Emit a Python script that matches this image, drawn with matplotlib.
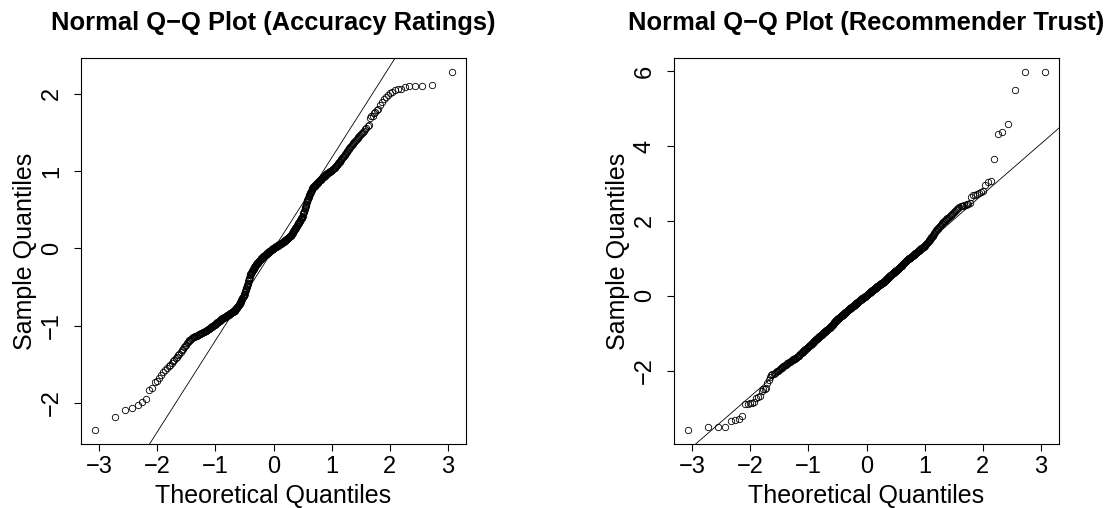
import matplotlib
matplotlib.use("Agg")
import matplotlib.pyplot as plt
import numpy as np
from statistics import NormalDist

# Sorted sample scores for each variable (n = 467)
accuracy_ratings = [
    -2.345, -2.18, -2.09, -2.06, -2.03, -1.99, -1.945, -1.825, -1.805, -1.73, -1.71,
    -1.67, -1.635,
    -1.598, -1.573, -1.549, -1.527,
    -1.503, -1.48, -1.458, -1.437,
    -1.417, -1.398, -1.379, -1.359, -1.342,
    -1.32, -1.30, -1.28, -1.263, -1.243,
    -1.226, -1.214, -1.202, -1.19, -1.178, -1.166, -1.153,
    -1.147, -1.143, -1.139, -1.134, -1.130, -1.126, -1.122,
    -1.118, -1.113, -1.108, -1.104, -1.099, -1.095, -1.090, -1.086, -1.082,
    -1.078, -1.073, -1.068, -1.063, -1.058, -1.053, -1.048, -1.043, -1.038,
    -1.033, -1.027, -1.022, -1.016, -1.011, -1.005, -1.000, -0.994, -0.989, -0.984, -0.978,
    -0.972, -0.967, -0.962, -0.957, -0.952, -0.947, -0.942, -0.937, -0.932, -0.927, -0.922, -0.917,
    -0.912, -0.909, -0.905, -0.902, -0.898, -0.895, -0.891, -0.888, -0.884, -0.881, -0.877, -0.874, -0.870,
    -0.866, -0.862, -0.858, -0.855, -0.851, -0.847, -0.844, -0.840, -0.836, -0.833, -0.829, -0.826, -0.823, -0.820,
    -0.818, -0.815, -0.812, -0.809, -0.803, -0.795, -0.788, -0.781, -0.774, -0.767, -0.761, -0.755, -0.750, -0.745, -0.740,
    -0.733, -0.724, -0.715, -0.705, -0.696, -0.687, -0.678, -0.669, -0.660, -0.650, -0.641, -0.632, -0.623, -0.614, -0.604, -0.595,
    -0.583, -0.569, -0.556, -0.542, -0.528, -0.514, -0.500, -0.487,
    -0.472, -0.456, -0.441, -0.425, -0.410, -0.394, -0.379, -0.363, -0.348,
    -0.336, -0.328, -0.320, -0.313, -0.305, -0.297, -0.290, -0.282, -0.274, -0.267, -0.259, -0.251, -0.244, -0.236, -0.228, -0.221, -0.213,
    -0.208, -0.203, -0.198, -0.193, -0.188, -0.183, -0.178, -0.173, -0.168, -0.164, -0.159, -0.154, -0.149, -0.144, -0.139, -0.134, -0.129, -0.124,
    -0.120, -0.117, -0.113, -0.110, -0.106, -0.103, -0.099, -0.096, -0.092, -0.089, -0.085, -0.082, -0.078, -0.075, -0.071, -0.068, -0.064, -0.061, -0.057,
    -0.053, -0.050, -0.047, -0.043, -0.040, -0.037, -0.034, -0.031, -0.027, -0.024, -0.021, -0.018, -0.015, -0.011, -0.008, -0.005, -0.002, 0.001, 0.004,
    0.007, 0.009, 0.012, 0.015, 0.017, 0.020, 0.022, 0.025, 0.028, 0.030, 0.033, 0.035, 0.038, 0.041, 0.043, 0.046, 0.048, 0.051,
    0.053, 0.056, 0.059, 0.061, 0.064, 0.067, 0.069, 0.072, 0.075, 0.077, 0.080, 0.083, 0.085, 0.088, 0.091, 0.093, 0.096, 0.099, 0.101,
    0.105, 0.109, 0.113, 0.117, 0.121, 0.125, 0.129, 0.133, 0.137, 0.140, 0.144, 0.148, 0.152, 0.156, 0.160, 0.164, 0.168, 0.172,
    0.178, 0.185, 0.192, 0.199, 0.206, 0.213, 0.220, 0.227, 0.234, 0.241, 0.248, 0.255, 0.262, 0.269, 0.276, 0.283, 0.290,
    0.297, 0.304, 0.311, 0.319, 0.326, 0.333, 0.341, 0.348, 0.355, 0.362, 0.370, 0.377, 0.384, 0.392, 0.399, 0.406, 0.413,
    0.425, 0.441, 0.457, 0.473, 0.489, 0.505, 0.521, 0.537,
    0.552, 0.567, 0.582, 0.597, 0.611, 0.626, 0.641, 0.656,
    0.668, 0.678, 0.689, 0.700, 0.712, 0.724, 0.737, 0.750, 0.762, 0.774, 0.784, 0.790, 0.795, 0.799, 0.804,
    0.810, 0.815, 0.820, 0.826, 0.831, 0.837, 0.842, 0.848, 0.853, 0.858, 0.864, 0.869, 0.875, 0.880,
    0.886, 0.891, 0.897, 0.902, 0.908, 0.913, 0.919, 0.924, 0.930, 0.935, 0.941, 0.946, 0.952,
    0.958, 0.962, 0.967, 0.971, 0.976, 0.980, 0.985, 0.989, 0.994, 0.998, 1.003, 1.007,
    1.013, 1.020, 1.027, 1.034, 1.040, 1.047, 1.054, 1.061, 1.068, 1.075, 1.082,
    1.091, 1.102, 1.113, 1.124, 1.134, 1.145, 1.156, 1.167, 1.178,
    1.189, 1.201, 1.212, 1.224, 1.236, 1.247, 1.259, 1.271, 1.282,
    1.294, 1.307, 1.320, 1.333, 1.346, 1.359, 1.372,
    1.386, 1.399, 1.412, 1.425, 1.438, 1.451, 1.464,
    1.48, 1.495, 1.51, 1.525, 1.545,
    1.565, 1.58, 1.60, 1.69, 1.71, 1.72, 1.75, 1.77, 1.79, 1.81, 1.86, 1.90, 1.93,
    1.96, 1.99, 2.01, 2.03, 2.05, 2.06, 2.07, 2.09, 2.10, 2.10, 2.10, 2.12, 2.28,
]

recommender_trust = [
    -3.58, -3.51, -3.51, -3.51, -3.34, -3.33, -3.30, -3.22, -2.90, -2.88, -2.87, -2.86, -2.84,
    -2.72, -2.70, -2.68, -2.55, -2.50, -2.48, -2.46, -2.33, -2.25, -2.17, -2.12, -2.10, -2.08,
    -2.06, -2.04, -2.02, -2.00, -1.98,
    -1.96, -1.94, -1.92, -1.91, -1.89, -1.87, -1.86,
    -1.84, -1.82, -1.81, -1.79, -1.78, -1.76, -1.75,
    -1.735, -1.724, -1.713, -1.702, -1.691, -1.680, -1.669, -1.658, -1.647,
    -1.632, -1.617, -1.601, -1.586, -1.570, -1.554, -1.539, -1.523, -1.508,
    -1.494, -1.481, -1.468, -1.455, -1.442, -1.430, -1.417, -1.404, -1.391, -1.378, -1.366,
    -1.354, -1.341, -1.329, -1.316, -1.304, -1.291, -1.279, -1.266, -1.254, -1.241, -1.229, -1.216,
    -1.205, -1.194, -1.183, -1.172, -1.161, -1.151, -1.140, -1.129, -1.118, -1.107, -1.097, -1.086, -1.075,
    -1.065, -1.056, -1.046, -1.037, -1.028, -1.018, -1.009, -1.000, -0.990, -0.981, -0.972, -0.962, -0.953, -0.944,
    -0.935, -0.926, -0.917, -0.907, -0.898, -0.889, -0.879, -0.870, -0.861, -0.852, -0.843, -0.833, -0.824, -0.815, -0.806,
    -0.794, -0.783, -0.772, -0.760, -0.749, -0.738, -0.727, -0.715, -0.704, -0.693, -0.682, -0.670, -0.659, -0.648, -0.637, -0.626,
    -0.617, -0.610, -0.603, -0.596, -0.589, -0.582, -0.575, -0.568, -0.561, -0.553, -0.546, -0.539, -0.532, -0.525, -0.518, -0.511, -0.504,
    -0.496, -0.488, -0.480, -0.471, -0.463, -0.455, -0.447, -0.438, -0.430, -0.422, -0.414, -0.405, -0.397, -0.389, -0.381, -0.372, -0.364,
    -0.357, -0.350, -0.343, -0.337, -0.330, -0.323, -0.317, -0.310, -0.303, -0.297, -0.290, -0.283, -0.277, -0.270, -0.263, -0.257, -0.250, -0.243,
    -0.236, -0.229, -0.221, -0.214, -0.207, -0.199, -0.192, -0.184, -0.177, -0.170, -0.162, -0.155, -0.147, -0.140, -0.133, -0.125, -0.118, -0.111, -0.103,
    -0.097, -0.091, -0.085, -0.079, -0.073, -0.068, -0.062, -0.056, -0.050, -0.045, -0.039, -0.033, -0.027, -0.022, -0.016, -0.010, -0.004, 0.002, 0.008,
    0.017, 0.024, 0.031, 0.039, 0.046, 0.053, 0.060, 0.067, 0.075, 0.082, 0.089, 0.096, 0.103, 0.111, 0.118, 0.125, 0.132, 0.139,
    0.144, 0.151, 0.158, 0.165, 0.172, 0.179, 0.185, 0.192, 0.199, 0.206, 0.213, 0.219, 0.226, 0.233, 0.240, 0.247, 0.253, 0.260, 0.267,
    0.273, 0.279, 0.285, 0.291, 0.297, 0.303, 0.309, 0.315, 0.322, 0.328, 0.334, 0.340, 0.346, 0.352, 0.358, 0.364, 0.370, 0.376,
    0.384, 0.393, 0.401, 0.410, 0.419, 0.428, 0.437, 0.446, 0.455, 0.463, 0.472, 0.481, 0.490, 0.499, 0.508, 0.517, 0.526,
    0.534, 0.542, 0.549, 0.557, 0.564, 0.572, 0.580, 0.587, 0.595, 0.603, 0.610, 0.618, 0.625, 0.633, 0.641, 0.648, 0.656,
    0.664, 0.673, 0.682, 0.691, 0.699, 0.708, 0.717, 0.726, 0.734, 0.743, 0.752, 0.760, 0.769, 0.778, 0.787, 0.795,
    0.805, 0.816, 0.827, 0.837, 0.848, 0.859, 0.869, 0.880, 0.891, 0.901, 0.912, 0.923, 0.933, 0.944, 0.955,
    0.964, 0.972, 0.980, 0.988, 0.996, 1.004, 1.012, 1.019, 1.027, 1.035, 1.043, 1.051, 1.059, 1.067,
    1.075, 1.086, 1.096, 1.107, 1.118, 1.129, 1.140, 1.150, 1.161, 1.172, 1.183, 1.194, 1.204,
    1.215, 1.225, 1.235, 1.245, 1.255, 1.265, 1.275, 1.285, 1.295, 1.305, 1.315, 1.325,
    1.339, 1.356, 1.373, 1.390, 1.408, 1.425, 1.442, 1.459, 1.476, 1.494, 1.511,
    1.532, 1.556, 1.581, 1.605, 1.630, 1.654, 1.679, 1.703, 1.728,
    1.750, 1.771, 1.792, 1.813, 1.834, 1.855, 1.876, 1.897, 1.918,
    1.941, 1.962, 1.984, 2.005, 2.026, 2.048, 2.069,
    2.090, 2.110, 2.130, 2.150, 2.170, 2.190, 2.210,
    2.24, 2.26, 2.29, 2.32, 2.35, 2.37, 2.39, 2.40, 2.41, 2.42, 2.43, 2.44, 2.46, 2.48,
    2.65, 2.68, 2.69, 2.71, 2.74, 2.77, 2.80, 2.96, 3.04, 3.07,
    3.65, 4.32, 4.38, 4.58, 5.50, 5.97, 5.97,
]

panel_titles = ["Normal Q\u2212Q Plot (Accuracy Ratings)",
                "Normal Q\u2212Q Plot (Recommender Trust)"]
x_label = "Theoretical Quantiles"
y_label = "Sample Quantiles"
x_ticks = [-3, -2, -1, 0, 1, 2, 3]
accuracy_y_ticks = [-2, -1, 0, 1, 2]
trust_y_ticks = [-2, 0, 2, 4, 6]

plt.rcParams["font.family"] = ["Liberation Sans", "DejaVu Sans"]
plt.rcParams["axes.unicode_minus"] = True

std_normal = NormalDist()


def normal_scores(n):
    """Plotting positions as in R's ppoints()/qqnorm()."""
    a = 3 / 8 if n <= 10 else 0.5
    return np.array([std_normal.inv_cdf((i - a) / (n + 1 - 2 * a))
                     for i in range(1, n + 1)])


def padded_range(values):
    lo, hi = float(np.min(values)), float(np.max(values))
    pad = 0.04 * (hi - lo)
    return lo - pad, hi + pad


W, H = 1110, 508
fig = plt.figure(figsize=(W / 100, H / 100), dpi=100)

box_w, box_h = 385, 386
panel_boxes = [(81, 58), (674, 58)]  # left, top in pixels

panels = [
    (accuracy_ratings, panel_titles[0], accuracy_y_ticks),
    (recommender_trust, panel_titles[1], trust_y_ticks),
]

for (left, top), (sample, title, y_ticks) in zip(panel_boxes, panels):
    ax = fig.add_axes([left / W, (H - top - box_h) / H, box_w / W, box_h / H])
    y = np.sort(np.asarray(sample, dtype=float))
    x = normal_scores(len(y))

    ax.plot(x, y, linestyle="none", marker="o", markersize=4.6,
            markerfacecolor="none", markeredgecolor="black",
            markeredgewidth=0.6)

    # Reference line through the first and third quartiles
    q1, q3 = np.percentile(y, [25, 75])
    z1, z3 = std_normal.inv_cdf(0.25), std_normal.inv_cdf(0.75)
    slope = (q3 - q1) / (z3 - z1)
    intercept = q1 - slope * z1
    ax.axline((0.0, intercept), slope=slope, color="black", linewidth=0.6)

    ax.set_xlim(padded_range(x))
    ax.set_ylim(padded_range(y))
    ax.set_xticks(x_ticks)
    ax.set_yticks(y_ticks)

    for side in ax.spines.values():
        side.set_linewidth(0.8)
        side.set_color("black")
    ax.tick_params(axis="both", which="major", direction="out", length=5,
                   width=0.8, labelsize=17, color="black")
    ax.tick_params(axis="x", pad=3.5)
    ax.tick_params(axis="y", pad=8)
    for lab in ax.get_yticklabels():
        lab.set_rotation(90)
        lab.set_verticalalignment("center")

    ax.set_title(title, fontsize=18.4, fontweight="bold", pad=20)
    ax.set_xlabel(x_label, fontsize=18)
    ax.set_ylabel(y_label, fontsize=18)
    ax.xaxis.set_label_coords(0.5, -0.103)
    ax.yaxis.set_label_coords(-0.114, 0.5)

fig.savefig("out.png", dpi=100)
